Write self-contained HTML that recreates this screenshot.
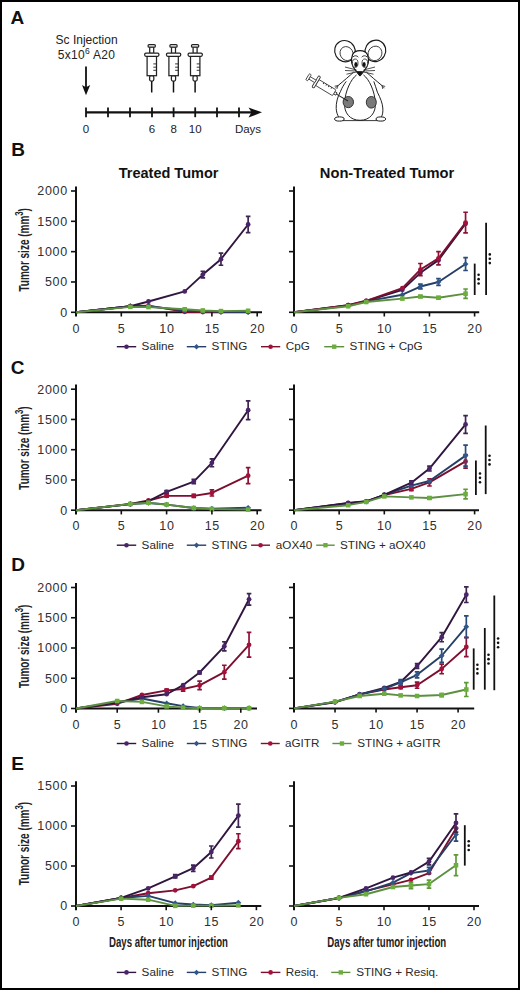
<!DOCTYPE html><html><head><meta charset="utf-8"><style>html,body{margin:0;padding:0;background:#fff;}svg{display:block;}</style></head><body>
<svg width="520" height="990" viewBox="0 0 520 990" font-family='"Liberation Sans", sans-serif'>
<rect x="0" y="0" width="520" height="990" fill="#fff"/>
<text x="10.4" y="24.4" font-size="19" font-weight="bold" fill="#111">A</text>
<text x="86.6" y="44.2" font-size="12" text-anchor="middle" fill="#222">Sc Injection</text>
<text x="57.7" y="58.9" font-size="12" letter-spacing="0.3" fill="#222">5x10<tspan dy="-5" font-size="8.5">6</tspan><tspan dy="5"> A20</tspan></text>
<path d="M86 66.5V88" stroke="#111" stroke-width="1.8"/>
<path d="M82 85L86 95.2L90.2 85L86 87.2Z" fill="#111"/>
<path d="M86 112.3H252" stroke="#111" stroke-width="2.2"/>
<path d="M248.5 107.5L262 112.3L248.5 117.6L251.5 112.3Z" fill="#111"/>
<path d="M86 107.4V117.2" stroke="#111" stroke-width="1.8"/>
<path d="M108 107.4V117.2" stroke="#111" stroke-width="1.8"/>
<path d="M130 107.4V117.2" stroke="#111" stroke-width="1.8"/>
<path d="M152 107.4V117.2" stroke="#111" stroke-width="1.8"/>
<path d="M173.6 107.4V117.2" stroke="#111" stroke-width="1.8"/>
<path d="M195.2 107.4V117.2" stroke="#111" stroke-width="1.8"/>
<path d="M217 107.4V117.2" stroke="#111" stroke-width="1.8"/>
<path d="M239 107.4V117.2" stroke="#111" stroke-width="1.8"/>
<text x="86" y="132.5" font-size="11.5" text-anchor="middle" fill="#222">0</text>
<text x="152" y="132.5" font-size="11.5" text-anchor="middle" fill="#222">6</text>
<text x="173.6" y="132.5" font-size="11.5" text-anchor="middle" fill="#222">8</text>
<text x="195.2" y="132.5" font-size="11.5" text-anchor="middle" fill="#222">10</text>
<text x="248" y="132.5" font-size="11.5" text-anchor="middle" fill="#222">Days</text>
<path d="M151.7 81V92.5" stroke="#111" stroke-width="1.5"/>
<rect x="149.60" y="75.6" width="4.2" height="5.4" rx="1.5" stroke="#222" stroke-width="1.25" fill="#fff"/>
<rect x="147.10" y="56.2" width="9.4" height="19.5" stroke="#222" stroke-width="1.25" fill="#fff"/>
<path d="M153.30 63.9H156.50" stroke="#222" stroke-width="0.9"/>
<path d="M153.30 67.2H156.50" stroke="#222" stroke-width="0.9"/>
<path d="M153.30 70.3H156.50" stroke="#222" stroke-width="0.9"/>
<rect x="149.70" y="46.8" width="4.0" height="6.6" stroke="#222" stroke-width="1.25" fill="#fff"/>
<rect x="148.10" y="44.6" width="7.2" height="2.6" rx="1" stroke="#222" stroke-width="1.25" fill="#fff"/>
<rect x="144.70" y="53.0" width="14.2" height="3.3" rx="1.2" stroke="#222" stroke-width="1.25" fill="#fff"/>
<path d="M173.5 81V92.5" stroke="#111" stroke-width="1.5"/>
<rect x="171.40" y="75.6" width="4.2" height="5.4" rx="1.5" stroke="#222" stroke-width="1.25" fill="#fff"/>
<rect x="168.90" y="56.2" width="9.4" height="19.5" stroke="#222" stroke-width="1.25" fill="#fff"/>
<path d="M175.10 63.9H178.30" stroke="#222" stroke-width="0.9"/>
<path d="M175.10 67.2H178.30" stroke="#222" stroke-width="0.9"/>
<path d="M175.10 70.3H178.30" stroke="#222" stroke-width="0.9"/>
<rect x="171.50" y="46.8" width="4.0" height="6.6" stroke="#222" stroke-width="1.25" fill="#fff"/>
<rect x="169.90" y="44.6" width="7.2" height="2.6" rx="1" stroke="#222" stroke-width="1.25" fill="#fff"/>
<rect x="166.50" y="53.0" width="14.2" height="3.3" rx="1.2" stroke="#222" stroke-width="1.25" fill="#fff"/>
<path d="M195.1 81V92.5" stroke="#111" stroke-width="1.5"/>
<rect x="193.00" y="75.6" width="4.2" height="5.4" rx="1.5" stroke="#222" stroke-width="1.25" fill="#fff"/>
<rect x="190.50" y="56.2" width="9.4" height="19.5" stroke="#222" stroke-width="1.25" fill="#fff"/>
<path d="M196.70 63.9H199.90" stroke="#222" stroke-width="0.9"/>
<path d="M196.70 67.2H199.90" stroke="#222" stroke-width="0.9"/>
<path d="M196.70 70.3H199.90" stroke="#222" stroke-width="0.9"/>
<rect x="193.10" y="46.8" width="4.0" height="6.6" stroke="#222" stroke-width="1.25" fill="#fff"/>
<rect x="191.50" y="44.6" width="7.2" height="2.6" rx="1" stroke="#222" stroke-width="1.25" fill="#fff"/>
<rect x="188.10" y="53.0" width="14.2" height="3.3" rx="1.2" stroke="#222" stroke-width="1.25" fill="#fff"/>
<ellipse cx="345" cy="51.2" rx="10.2" ry="10.8" transform="rotate(-30 345 51.2)" stroke="#1a1a1a" fill="#fff" stroke-width="1.15"/>
<ellipse cx="346.6" cy="53.6" rx="6.4" ry="7.2" transform="rotate(-30 346.6 53.6)" stroke="#333" fill="none" stroke-width="0.85"/>
<ellipse cx="375.4" cy="50.9" rx="10.2" ry="10.9" transform="rotate(30 375.4 50.9)" stroke="#1a1a1a" fill="#fff" stroke-width="1.15"/>
<ellipse cx="375" cy="53.4" rx="6.8" ry="7.4" transform="rotate(30 375 53.4)" stroke="#333" fill="none" stroke-width="0.85"/>
<path d="M353 72 L338 85.5 L336.3 108 L338 119 L383 119 L384.5 108 L382 85.5 L367 72 Z" fill="#fff"/>
<path d="M353.5 72.2 C349.5 76 343.5 81 338 85.6 M346.2 81.4 C343.8 84.6 342 87.8 340.6 91.2 C337.4 97 336 103 336.2 108.4 C336.4 112 337.3 114.8 338.6 116.8" stroke="#222" fill="none" stroke-width="1"/>
<path d="M338 85.6 L334.6 86.2 M338 85.6 L335.2 88 M338 85.6 L336.8 89" stroke="#222" fill="none" stroke-width="0.8"/>
<path d="M366.5 72.2 C370.5 76 376.5 81 382 85.6 M373.8 81.4 C375 84.6 376.2 88.6 377.4 92.2 C380.4 98 382.4 103 382.8 108 C383.1 112 382.6 114.8 381.4 116.8" stroke="#222" fill="none" stroke-width="1"/>
<path d="M382 85.6 L385.2 86.4 M382 85.6 L384.4 88.2 M382 85.6 L382.8 89" stroke="#222" fill="none" stroke-width="0.8"/>
<ellipse cx="339.4" cy="119" rx="4.8" ry="2.1" stroke="#1a1a1a" fill="#fff" stroke-width="1"/>
<ellipse cx="380.8" cy="119" rx="4.8" ry="2.1" stroke="#1a1a1a" fill="#fff" stroke-width="1"/>
<path d="M343 120.6 H377.5" stroke="#222" stroke-width="0.9"/>
<path d="M356.5 75 C351 79 345.2 91 344.5 103 C344 113 350 120.3 360 120.3 C370 120.3 375.9 113 375.4 103 C374.8 91 369 79 363.5 75" stroke="#222" fill="none" stroke-width="1"/>
<path d="M352.6 54.5 C354 51.5 357 50.6 360 50.6 C363 50.6 366 51.5 367.4 54.5 C369.5 60 368.5 66 364 71 C362.4 73 361.2 74.6 360 75.6 C358.8 74.6 357.6 73 356 71 C351.5 66 350.5 60 352.6 54.5 Z" stroke="#1a1a1a" fill="#fff" stroke-width="1.2"/>
<path d="M352.8 57 C354.5 55.2 357 55.4 358.3 57.2 M361.7 57.2 C363 55.4 365.5 55.2 367.2 57" stroke="#222" fill="none" stroke-width="0.9"/>
<ellipse cx="355.2" cy="63.2" rx="2.8" ry="4.2" stroke="#222" fill="#fff" stroke-width="0.8"/>
<ellipse cx="364.8" cy="63.2" rx="2.8" ry="4.2" stroke="#222" fill="#fff" stroke-width="0.8"/>
<ellipse cx="355.9" cy="64.4" rx="1.6" ry="2.5" fill="#111"/>
<ellipse cx="364.1" cy="64.4" rx="1.6" ry="2.5" fill="#111"/>
<path d="M357 71.6 L362.6 71.6 L359.8 76 Z" fill="#111" stroke="#111" stroke-width="0.8" stroke-linejoin="round"/>
<path d="M356.5 70 L345 67 M356.5 71 L345 70.5 M356.5 72 L346.5 74.2 M363.5 70 L375 67 M363.5 71 L375 70.5 M363.5 72 L373.5 74.2" stroke="#222" stroke-width="0.8" fill="none"/>
<ellipse cx="348.3" cy="102.1" rx="5.2" ry="5.6" fill="#7a7a7a" stroke="#333" stroke-width="1"/>
<ellipse cx="371.3" cy="102.3" rx="5" ry="5.8" fill="#7a7a7a" stroke="#333" stroke-width="1"/>
<g transform="translate(348 101) rotate(31)"><path d="M-14 0H0" stroke="#222" stroke-width="0.9"/><rect x="-16.5" y="-1.3" width="3" height="2.6" stroke="#222" fill="#fff" stroke-width="0.8"/><rect x="-36" y="-3.4" width="20" height="6.8" rx="1" stroke="#333" fill="#fff" stroke-width="0.8"/><path d="M-30 -3.4V-1.8M-27 -3.4V-1.8M-24 -3.4V-1.8M-21 -3.4V-1.8" stroke="#222" stroke-width="0.9"/><rect x="-38.2" y="-6.6" width="2.4" height="13.2" rx="1.1" stroke="#333" fill="#fff" stroke-width="0.9"/><rect x="-45" y="-1.4" width="7" height="2.8" stroke="#333" fill="#fff" stroke-width="0.8"/><rect x="-47.2" y="-3.6" width="2.3" height="7.2" rx="0.9" stroke="#333" fill="#fff" stroke-width="0.8"/></g>
<path d="M76 186.5V316.5" stroke="#111" stroke-width="2" fill="none"/>
<path d="M75 312.3H262" stroke="#111" stroke-width="2" fill="none"/>
<path d="M76.00 312.30L130.36 306.24L148.48 305.63L184.72 311.81L202.84 312.06L220.96 312.12L248.14 312.12" fill="none" stroke="#7c0f30" stroke-width="1.9" stroke-linejoin="round"/>
<circle cx="130.36" cy="306.24" r="2.4" fill="#a3113b"/>
<circle cx="148.48" cy="305.63" r="2.4" fill="#a3113b"/>
<circle cx="184.72" cy="311.81" r="2.4" fill="#a3113b"/>
<circle cx="202.84" cy="312.06" r="2.4" fill="#a3113b"/>
<circle cx="220.96" cy="312.12" r="2.4" fill="#a3113b"/>
<circle cx="248.14" cy="312.12" r="2.4" fill="#a3113b"/>
<path d="M76.00 312.30L130.36 306.24L148.48 306.24L184.72 310.48L202.84 311.39L220.96 311.81L248.14 312.00" fill="none" stroke="#263f66" stroke-width="1.9" stroke-linejoin="round"/>
<path d="M130.36 303.36L133.24 306.24L130.36 309.12L127.48 306.24Z" fill="#31578a"/>
<path d="M148.48 303.36L151.36 306.24L148.48 309.12L145.60 306.24Z" fill="#31578a"/>
<path d="M184.72 307.60L187.60 310.48L184.72 313.36L181.84 310.48Z" fill="#31578a"/>
<path d="M202.84 308.51L205.72 311.39L202.84 314.27L199.96 311.39Z" fill="#31578a"/>
<path d="M220.96 308.93L223.84 311.81L220.96 314.69L218.08 311.81Z" fill="#31578a"/>
<path d="M248.14 309.12L251.02 312.00L248.14 314.88L245.26 312.00Z" fill="#31578a"/>
<path d="M76.00 312.30L130.36 306.24L148.48 301.50L184.72 291.38L202.84 274.58L220.96 259.17L248.14 224.48" fill="none" stroke="#30163f" stroke-width="1.9" stroke-linejoin="round"/>
<circle cx="130.36" cy="306.24" r="2.4" fill="#4a2468"/>
<circle cx="148.48" cy="301.50" r="2.4" fill="#4a2468"/>
<circle cx="184.72" cy="291.38" r="2.4" fill="#4a2468"/>
<path d="M202.84 271.24V277.91M200.54 271.24H205.14M200.54 277.91H205.14" stroke="#3d2552" stroke-width="1.7" fill="none"/>
<circle cx="202.84" cy="274.58" r="2.4" fill="#4a2468"/>
<path d="M220.96 253.11V265.24M218.66 253.11H223.26M218.66 265.24H223.26" stroke="#3d2552" stroke-width="1.7" fill="none"/>
<circle cx="220.96" cy="259.17" r="2.4" fill="#4a2468"/>
<path d="M248.14 216.29V232.67M245.84 216.29H250.44M245.84 232.67H250.44" stroke="#3d2552" stroke-width="1.7" fill="none"/>
<circle cx="248.14" cy="224.48" r="2.4" fill="#4a2468"/>
<path d="M76.00 312.30L130.36 306.84L148.48 307.08L184.72 309.27L202.84 310.48L220.96 311.09L248.14 310.78" fill="none" stroke="#5c9040" stroke-width="1.9" stroke-linejoin="round"/>
<rect x="128.08" y="304.56" width="4.56" height="4.56" fill="#6cae3e"/>
<rect x="146.20" y="304.80" width="4.56" height="4.56" fill="#6cae3e"/>
<rect x="182.44" y="306.99" width="4.56" height="4.56" fill="#6cae3e"/>
<rect x="200.56" y="308.20" width="4.56" height="4.56" fill="#6cae3e"/>
<rect x="218.68" y="308.81" width="4.56" height="4.56" fill="#6cae3e"/>
<rect x="245.86" y="308.50" width="4.56" height="4.56" fill="#6cae3e"/>
<path d="M71 312.30H76" stroke="#111" stroke-width="1.6" fill="none"/>
<text x="68" y="316.60" text-anchor="end" font-size="12.5" letter-spacing="0.75" fill="#303030">0</text>
<path d="M71 281.98H76" stroke="#111" stroke-width="1.6" fill="none"/>
<text x="68" y="286.28" text-anchor="end" font-size="12.5" letter-spacing="0.75" fill="#303030">500</text>
<path d="M71 251.65H76" stroke="#111" stroke-width="1.6" fill="none"/>
<text x="68" y="255.95" text-anchor="end" font-size="12.5" letter-spacing="0.75" fill="#303030">1000</text>
<path d="M71 221.32H76" stroke="#111" stroke-width="1.6" fill="none"/>
<text x="68" y="225.62" text-anchor="end" font-size="12.5" letter-spacing="0.75" fill="#303030">1500</text>
<path d="M71 191.00H76" stroke="#111" stroke-width="1.6" fill="none"/>
<text x="68" y="195.30" text-anchor="end" font-size="12.5" letter-spacing="0.75" fill="#303030">2000</text>
<text x="76.30" y="332.50" text-anchor="middle" font-size="12.5" letter-spacing="0.6" fill="#303030">0</text>
<path d="M121.30 312.3V316.5" stroke="#111" stroke-width="1.6" fill="none"/>
<text x="121.60" y="332.50" text-anchor="middle" font-size="12.5" letter-spacing="0.6" fill="#303030">5</text>
<path d="M166.60 312.3V316.5" stroke="#111" stroke-width="1.6" fill="none"/>
<text x="166.90" y="332.50" text-anchor="middle" font-size="12.5" letter-spacing="0.6" fill="#303030">10</text>
<path d="M211.90 312.3V316.5" stroke="#111" stroke-width="1.6" fill="none"/>
<text x="212.20" y="332.50" text-anchor="middle" font-size="12.5" letter-spacing="0.6" fill="#303030">15</text>
<path d="M257.20 312.3V316.5" stroke="#111" stroke-width="1.6" fill="none"/>
<text x="257.50" y="332.50" text-anchor="middle" font-size="12.5" letter-spacing="0.6" fill="#303030">20</text>
<path d="M294 186.5V316.5" stroke="#111" stroke-width="2" fill="none"/>
<path d="M293 312.3H479.2" stroke="#111" stroke-width="2" fill="none"/>
<path d="M294.00 312.30L348.18 305.63L366.24 301.38L402.36 294.71L420.42 286.52L438.48 281.98L465.57 264.02" fill="none" stroke="#263f66" stroke-width="1.9" stroke-linejoin="round"/>
<path d="M348.18 302.75L351.06 305.63L348.18 308.51L345.30 305.63Z" fill="#31578a"/>
<path d="M366.24 298.50L369.12 301.38L366.24 304.26L363.36 301.38Z" fill="#31578a"/>
<path d="M402.36 291.83L405.24 294.71L402.36 297.59L399.48 294.71Z" fill="#31578a"/>
<path d="M420.42 284.10V288.95M418.12 284.10H422.72M418.12 288.95H422.72" stroke="#2b4a78" stroke-width="1.7" fill="none"/>
<path d="M420.42 283.64L423.30 286.52L420.42 289.40L417.54 286.52Z" fill="#31578a"/>
<path d="M438.48 278.58V285.37M436.18 278.58H440.78M436.18 285.37H440.78" stroke="#2b4a78" stroke-width="1.7" fill="none"/>
<path d="M438.48 279.10L441.36 281.98L438.48 284.86L435.60 281.98Z" fill="#31578a"/>
<path d="M465.57 257.53V270.51M463.27 257.53H467.87M463.27 270.51H467.87" stroke="#2b4a78" stroke-width="1.7" fill="none"/>
<path d="M465.57 261.14L468.45 264.02L465.57 266.90L462.69 264.02Z" fill="#31578a"/>
<path d="M294.00 312.30L348.18 305.20L366.24 301.02L402.36 289.86L420.42 272.82L438.48 260.14L465.57 223.75" fill="none" stroke="#30163f" stroke-width="1.9" stroke-linejoin="round"/>
<circle cx="348.18" cy="305.20" r="2.4" fill="#4a2468"/>
<circle cx="366.24" cy="301.02" r="2.4" fill="#4a2468"/>
<circle cx="402.36" cy="289.86" r="2.4" fill="#4a2468"/>
<circle cx="420.42" cy="272.82" r="2.4" fill="#4a2468"/>
<circle cx="438.48" cy="260.14" r="2.4" fill="#4a2468"/>
<circle cx="465.57" cy="223.75" r="2.4" fill="#4a2468"/>
<path d="M294.00 312.30L348.18 305.20L366.24 300.78L402.36 288.04L420.42 269.54L438.48 258.32L465.57 222.54" fill="none" stroke="#7c0f30" stroke-width="1.9" stroke-linejoin="round"/>
<circle cx="348.18" cy="305.20" r="2.4" fill="#a3113b"/>
<circle cx="366.24" cy="300.78" r="2.4" fill="#a3113b"/>
<circle cx="402.36" cy="288.04" r="2.4" fill="#a3113b"/>
<path d="M420.42 263.48V275.61M418.12 263.48H422.72M418.12 275.61H422.72" stroke="#8e1135" stroke-width="1.7" fill="none"/>
<circle cx="420.42" cy="269.54" r="2.4" fill="#a3113b"/>
<path d="M438.48 251.71V264.93M436.18 251.71H440.78M436.18 264.93H440.78" stroke="#8e1135" stroke-width="1.7" fill="none"/>
<circle cx="438.48" cy="258.32" r="2.4" fill="#a3113b"/>
<path d="M465.57 212.23V232.85M463.27 212.23H467.87M463.27 232.85H467.87" stroke="#8e1135" stroke-width="1.7" fill="none"/>
<circle cx="465.57" cy="222.54" r="2.4" fill="#a3113b"/>
<path d="M294.00 312.30L348.18 306.24L366.24 301.99L402.36 298.59L420.42 296.53L438.48 297.74L465.57 293.68" fill="none" stroke="#5c9040" stroke-width="1.9" stroke-linejoin="round"/>
<rect x="345.90" y="303.96" width="4.56" height="4.56" fill="#6cae3e"/>
<rect x="363.96" y="299.71" width="4.56" height="4.56" fill="#6cae3e"/>
<rect x="400.08" y="296.31" width="4.56" height="4.56" fill="#6cae3e"/>
<path d="M420.42 295.62V297.44M418.12 295.62H422.72M418.12 297.44H422.72" stroke="#5e9a38" stroke-width="1.7" fill="none"/>
<rect x="418.14" y="294.25" width="4.56" height="4.56" fill="#6cae3e"/>
<path d="M438.48 296.53V298.96M436.18 296.53H440.78M436.18 298.96H440.78" stroke="#5e9a38" stroke-width="1.7" fill="none"/>
<rect x="436.20" y="295.46" width="4.56" height="4.56" fill="#6cae3e"/>
<path d="M465.57 289.01V298.35M463.27 289.01H467.87M463.27 298.35H467.87" stroke="#5e9a38" stroke-width="1.7" fill="none"/>
<rect x="463.29" y="291.40" width="4.56" height="4.56" fill="#6cae3e"/>
<path d="M289 312.30H294" stroke="#111" stroke-width="1.6" fill="none"/>
<path d="M289 281.98H294" stroke="#111" stroke-width="1.6" fill="none"/>
<path d="M289 251.65H294" stroke="#111" stroke-width="1.6" fill="none"/>
<path d="M289 221.32H294" stroke="#111" stroke-width="1.6" fill="none"/>
<path d="M289 191.00H294" stroke="#111" stroke-width="1.6" fill="none"/>
<text x="294.30" y="332.50" text-anchor="middle" font-size="12.5" letter-spacing="0.6" fill="#303030">0</text>
<path d="M339.15 312.3V316.5" stroke="#111" stroke-width="1.6" fill="none"/>
<text x="339.45" y="332.50" text-anchor="middle" font-size="12.5" letter-spacing="0.6" fill="#303030">5</text>
<path d="M384.30 312.3V316.5" stroke="#111" stroke-width="1.6" fill="none"/>
<text x="384.60" y="332.50" text-anchor="middle" font-size="12.5" letter-spacing="0.6" fill="#303030">10</text>
<path d="M429.45 312.3V316.5" stroke="#111" stroke-width="1.6" fill="none"/>
<text x="429.75" y="332.50" text-anchor="middle" font-size="12.5" letter-spacing="0.6" fill="#303030">15</text>
<path d="M474.60 312.3V316.5" stroke="#111" stroke-width="1.6" fill="none"/>
<text x="474.90" y="332.50" text-anchor="middle" font-size="12.5" letter-spacing="0.6" fill="#303030">20</text>
<path d="M474.7 263.6V295" stroke="#111" stroke-width="1.8" fill="none"/>
<circle cx="478.60" cy="274.80" r="1.3" fill="#111"/>
<circle cx="478.60" cy="279.15" r="1.3" fill="#111"/>
<circle cx="478.60" cy="283.50" r="1.3" fill="#111"/>
<path d="M486.1 222.7V295" stroke="#111" stroke-width="1.8" fill="none"/>
<circle cx="489.80" cy="254.40" r="1.3" fill="#111"/>
<circle cx="489.80" cy="258.75" r="1.3" fill="#111"/>
<circle cx="489.80" cy="263.10" r="1.3" fill="#111"/>
<path d="M76 384.6V514.4" stroke="#111" stroke-width="2" fill="none"/>
<path d="M75 510.2H261.5" stroke="#111" stroke-width="2" fill="none"/>
<path d="M76.00 510.20L130.36 503.85L148.48 500.52L166.60 495.92L193.78 495.92L211.90 492.96L248.14 475.65" fill="none" stroke="#7c0f30" stroke-width="1.9" stroke-linejoin="round"/>
<circle cx="130.36" cy="503.85" r="2.4" fill="#a3113b"/>
<circle cx="148.48" cy="500.52" r="2.4" fill="#a3113b"/>
<path d="M166.60 494.71V497.13M164.30 494.71H168.90M164.30 497.13H168.90" stroke="#8e1135" stroke-width="1.7" fill="none"/>
<circle cx="166.60" cy="495.92" r="2.4" fill="#a3113b"/>
<path d="M193.78 494.41V497.43M191.48 494.41H196.08M191.48 497.43H196.08" stroke="#8e1135" stroke-width="1.7" fill="none"/>
<circle cx="193.78" cy="495.92" r="2.4" fill="#a3113b"/>
<path d="M211.90 489.93V495.98M209.60 489.93H214.20M209.60 495.98H214.20" stroke="#8e1135" stroke-width="1.7" fill="none"/>
<circle cx="211.90" cy="492.96" r="2.4" fill="#a3113b"/>
<path d="M248.14 467.61V483.70M245.84 467.61H250.44M245.84 483.70H250.44" stroke="#8e1135" stroke-width="1.7" fill="none"/>
<circle cx="248.14" cy="475.65" r="2.4" fill="#a3113b"/>
<path d="M76.00 510.20L130.36 504.15L148.48 502.94L166.60 504.57L193.78 508.02L211.90 508.63L248.14 507.78" fill="none" stroke="#263f66" stroke-width="1.9" stroke-linejoin="round"/>
<path d="M130.36 501.27L133.24 504.15L130.36 507.03L127.48 504.15Z" fill="#31578a"/>
<path d="M148.48 500.06L151.36 502.94L148.48 505.82L145.60 502.94Z" fill="#31578a"/>
<path d="M166.60 501.69L169.48 504.57L166.60 507.45L163.72 504.57Z" fill="#31578a"/>
<path d="M193.78 505.14L196.66 508.02L193.78 510.90L190.90 508.02Z" fill="#31578a"/>
<path d="M211.90 505.75L214.78 508.63L211.90 511.51L209.02 508.63Z" fill="#31578a"/>
<path d="M248.14 504.90L251.02 507.78L248.14 510.66L245.26 507.78Z" fill="#31578a"/>
<path d="M76.00 510.20L130.36 504.15L148.48 501.12L166.60 491.93L193.78 481.58L211.90 462.83L248.14 410.19" fill="none" stroke="#30163f" stroke-width="1.9" stroke-linejoin="round"/>
<circle cx="130.36" cy="504.15" r="2.4" fill="#4a2468"/>
<circle cx="148.48" cy="501.12" r="2.4" fill="#4a2468"/>
<path d="M166.60 490.72V493.14M164.30 490.72H168.90M164.30 493.14H168.90" stroke="#3d2552" stroke-width="1.7" fill="none"/>
<circle cx="166.60" cy="491.93" r="2.4" fill="#4a2468"/>
<path d="M193.78 479.47V483.70M191.48 479.47H196.08M191.48 483.70H196.08" stroke="#3d2552" stroke-width="1.7" fill="none"/>
<circle cx="193.78" cy="481.58" r="2.4" fill="#4a2468"/>
<path d="M211.90 458.90V466.76M209.60 458.90H214.20M209.60 466.76H214.20" stroke="#3d2552" stroke-width="1.7" fill="none"/>
<circle cx="211.90" cy="462.83" r="2.4" fill="#4a2468"/>
<path d="M248.14 400.82V419.57M245.84 400.82H250.44M245.84 419.57H250.44" stroke="#3d2552" stroke-width="1.7" fill="none"/>
<circle cx="248.14" cy="410.19" r="2.4" fill="#4a2468"/>
<path d="M76.00 510.20L130.36 504.03L148.48 502.70L166.60 504.57L193.78 508.02L211.90 508.99L248.14 509.59" fill="none" stroke="#5c9040" stroke-width="1.9" stroke-linejoin="round"/>
<rect x="128.08" y="501.75" width="4.56" height="4.56" fill="#6cae3e"/>
<rect x="146.20" y="500.42" width="4.56" height="4.56" fill="#6cae3e"/>
<rect x="164.32" y="502.29" width="4.56" height="4.56" fill="#6cae3e"/>
<rect x="191.50" y="505.74" width="4.56" height="4.56" fill="#6cae3e"/>
<rect x="209.62" y="506.71" width="4.56" height="4.56" fill="#6cae3e"/>
<rect x="245.86" y="507.31" width="4.56" height="4.56" fill="#6cae3e"/>
<path d="M71 510.20H76" stroke="#111" stroke-width="1.6" fill="none"/>
<text x="68" y="514.50" text-anchor="end" font-size="12.5" letter-spacing="0.75" fill="#303030">0</text>
<path d="M71 479.95H76" stroke="#111" stroke-width="1.6" fill="none"/>
<text x="68" y="484.25" text-anchor="end" font-size="12.5" letter-spacing="0.75" fill="#303030">500</text>
<path d="M71 449.70H76" stroke="#111" stroke-width="1.6" fill="none"/>
<text x="68" y="454.00" text-anchor="end" font-size="12.5" letter-spacing="0.75" fill="#303030">1000</text>
<path d="M71 419.45H76" stroke="#111" stroke-width="1.6" fill="none"/>
<text x="68" y="423.75" text-anchor="end" font-size="12.5" letter-spacing="0.75" fill="#303030">1500</text>
<path d="M71 389.20H76" stroke="#111" stroke-width="1.6" fill="none"/>
<text x="68" y="393.50" text-anchor="end" font-size="12.5" letter-spacing="0.75" fill="#303030">2000</text>
<text x="76.30" y="530.40" text-anchor="middle" font-size="12.5" letter-spacing="0.6" fill="#303030">0</text>
<path d="M121.30 510.2V514.4" stroke="#111" stroke-width="1.6" fill="none"/>
<text x="121.60" y="530.40" text-anchor="middle" font-size="12.5" letter-spacing="0.6" fill="#303030">5</text>
<path d="M166.60 510.2V514.4" stroke="#111" stroke-width="1.6" fill="none"/>
<text x="166.90" y="530.40" text-anchor="middle" font-size="12.5" letter-spacing="0.6" fill="#303030">10</text>
<path d="M211.90 510.2V514.4" stroke="#111" stroke-width="1.6" fill="none"/>
<text x="212.20" y="530.40" text-anchor="middle" font-size="12.5" letter-spacing="0.6" fill="#303030">15</text>
<path d="M257.20 510.2V514.4" stroke="#111" stroke-width="1.6" fill="none"/>
<text x="257.50" y="530.40" text-anchor="middle" font-size="12.5" letter-spacing="0.6" fill="#303030">20</text>
<path d="M294 384.6V514.4" stroke="#111" stroke-width="2" fill="none"/>
<path d="M293 510.2H479" stroke="#111" stroke-width="2" fill="none"/>
<path d="M294.00 510.20L348.18 503.24L366.24 501.43L384.30 495.07L411.39 488.90L429.45 482.37L465.57 461.44" fill="none" stroke="#7c0f30" stroke-width="1.9" stroke-linejoin="round"/>
<circle cx="348.18" cy="503.24" r="2.4" fill="#a3113b"/>
<circle cx="366.24" cy="501.43" r="2.4" fill="#a3113b"/>
<circle cx="384.30" cy="495.07" r="2.4" fill="#a3113b"/>
<path d="M411.39 487.09V490.72M409.09 487.09H413.69M409.09 490.72H413.69" stroke="#8e1135" stroke-width="1.7" fill="none"/>
<circle cx="411.39" cy="488.90" r="2.4" fill="#a3113b"/>
<path d="M429.45 478.74V486.00M427.15 478.74H431.75M427.15 486.00H431.75" stroke="#8e1135" stroke-width="1.7" fill="none"/>
<circle cx="429.45" cy="482.37" r="2.4" fill="#a3113b"/>
<path d="M465.57 454.66V468.21M463.27 454.66H467.87M463.27 468.21H467.87" stroke="#8e1135" stroke-width="1.7" fill="none"/>
<circle cx="465.57" cy="461.44" r="2.4" fill="#a3113b"/>
<path d="M294.00 510.20L348.18 503.55L366.24 501.73L384.30 494.77L411.39 485.64L429.45 481.04L465.57 455.63" fill="none" stroke="#263f66" stroke-width="1.9" stroke-linejoin="round"/>
<path d="M348.18 500.67L351.06 503.55L348.18 506.43L345.30 503.55Z" fill="#31578a"/>
<path d="M366.24 498.85L369.12 501.73L366.24 504.61L363.36 501.73Z" fill="#31578a"/>
<path d="M384.30 491.89L387.18 494.77L384.30 497.65L381.42 494.77Z" fill="#31578a"/>
<path d="M411.39 482.76L414.27 485.64L411.39 488.52L408.51 485.64Z" fill="#31578a"/>
<path d="M429.45 478.16L432.33 481.04L429.45 483.92L426.57 481.04Z" fill="#31578a"/>
<path d="M465.57 445.16V466.10M463.27 445.16H467.87M463.27 466.10H467.87" stroke="#2b4a78" stroke-width="1.7" fill="none"/>
<path d="M465.57 452.75L468.45 455.63L465.57 458.51L462.69 455.63Z" fill="#31578a"/>
<path d="M294.00 510.20L348.18 502.94L366.24 501.31L384.30 494.77L411.39 482.67L429.45 468.58L465.57 424.47" fill="none" stroke="#30163f" stroke-width="1.9" stroke-linejoin="round"/>
<circle cx="348.18" cy="502.94" r="2.4" fill="#4a2468"/>
<circle cx="366.24" cy="501.31" r="2.4" fill="#4a2468"/>
<circle cx="384.30" cy="494.77" r="2.4" fill="#4a2468"/>
<path d="M411.39 480.86V484.49M409.09 480.86H413.69M409.09 484.49H413.69" stroke="#3d2552" stroke-width="1.7" fill="none"/>
<circle cx="411.39" cy="482.67" r="2.4" fill="#4a2468"/>
<path d="M429.45 466.16V471.00M427.15 466.16H431.75M427.15 471.00H431.75" stroke="#3d2552" stroke-width="1.7" fill="none"/>
<circle cx="429.45" cy="468.58" r="2.4" fill="#4a2468"/>
<path d="M465.57 415.64V433.30M463.27 415.64H467.87M463.27 433.30H467.87" stroke="#3d2552" stroke-width="1.7" fill="none"/>
<circle cx="465.57" cy="424.47" r="2.4" fill="#4a2468"/>
<path d="M294.00 510.20L348.18 505.18L366.24 501.91L384.30 496.41L411.39 497.37L429.45 497.98L465.57 494.11" fill="none" stroke="#5c9040" stroke-width="1.9" stroke-linejoin="round"/>
<rect x="345.90" y="502.90" width="4.56" height="4.56" fill="#6cae3e"/>
<rect x="363.96" y="499.63" width="4.56" height="4.56" fill="#6cae3e"/>
<rect x="382.02" y="494.13" width="4.56" height="4.56" fill="#6cae3e"/>
<rect x="409.11" y="495.09" width="4.56" height="4.56" fill="#6cae3e"/>
<path d="M429.45 496.77V499.19M427.15 496.77H431.75M427.15 499.19H431.75" stroke="#5e9a38" stroke-width="1.7" fill="none"/>
<rect x="427.17" y="495.70" width="4.56" height="4.56" fill="#6cae3e"/>
<path d="M465.57 489.27V498.95M463.27 489.27H467.87M463.27 498.95H467.87" stroke="#5e9a38" stroke-width="1.7" fill="none"/>
<rect x="463.29" y="491.83" width="4.56" height="4.56" fill="#6cae3e"/>
<path d="M289 510.20H294" stroke="#111" stroke-width="1.6" fill="none"/>
<path d="M289 479.95H294" stroke="#111" stroke-width="1.6" fill="none"/>
<path d="M289 449.70H294" stroke="#111" stroke-width="1.6" fill="none"/>
<path d="M289 419.45H294" stroke="#111" stroke-width="1.6" fill="none"/>
<path d="M289 389.20H294" stroke="#111" stroke-width="1.6" fill="none"/>
<text x="294.30" y="530.40" text-anchor="middle" font-size="12.5" letter-spacing="0.6" fill="#303030">0</text>
<path d="M339.15 510.2V514.4" stroke="#111" stroke-width="1.6" fill="none"/>
<text x="339.45" y="530.40" text-anchor="middle" font-size="12.5" letter-spacing="0.6" fill="#303030">5</text>
<path d="M384.30 510.2V514.4" stroke="#111" stroke-width="1.6" fill="none"/>
<text x="384.60" y="530.40" text-anchor="middle" font-size="12.5" letter-spacing="0.6" fill="#303030">10</text>
<path d="M429.45 510.2V514.4" stroke="#111" stroke-width="1.6" fill="none"/>
<text x="429.75" y="530.40" text-anchor="middle" font-size="12.5" letter-spacing="0.6" fill="#303030">15</text>
<path d="M474.60 510.2V514.4" stroke="#111" stroke-width="1.6" fill="none"/>
<text x="474.90" y="530.40" text-anchor="middle" font-size="12.5" letter-spacing="0.6" fill="#303030">20</text>
<path d="M475.9 460.5V495" stroke="#111" stroke-width="1.8" fill="none"/>
<circle cx="480.00" cy="473.50" r="1.3" fill="#111"/>
<circle cx="480.00" cy="477.85" r="1.3" fill="#111"/>
<circle cx="480.00" cy="482.20" r="1.3" fill="#111"/>
<path d="M485.7 425.5V494.1" stroke="#111" stroke-width="1.8" fill="none"/>
<circle cx="489.50" cy="455.70" r="1.3" fill="#111"/>
<circle cx="489.50" cy="460.05" r="1.3" fill="#111"/>
<circle cx="489.50" cy="464.40" r="1.3" fill="#111"/>
<path d="M76 583.1V712.7" stroke="#111" stroke-width="2" fill="none"/>
<path d="M75 708.5H257" stroke="#111" stroke-width="2" fill="none"/>
<path d="M76.00 708.50L117.20 703.78L141.92 695.01L166.64 690.41L183.12 688.96L199.60 685.39L224.32 672.20L249.04 644.79" fill="none" stroke="#7c0f30" stroke-width="1.9" stroke-linejoin="round"/>
<circle cx="117.20" cy="703.78" r="2.4" fill="#a3113b"/>
<circle cx="141.92" cy="695.01" r="2.4" fill="#a3113b"/>
<path d="M166.64 689.20V691.62M164.34 689.20H168.94M164.34 691.62H168.94" stroke="#8e1135" stroke-width="1.7" fill="none"/>
<circle cx="166.64" cy="690.41" r="2.4" fill="#a3113b"/>
<path d="M183.12 686.84V691.08M180.82 686.84H185.42M180.82 691.08H185.42" stroke="#8e1135" stroke-width="1.7" fill="none"/>
<circle cx="183.12" cy="688.96" r="2.4" fill="#a3113b"/>
<path d="M199.60 681.15V689.62M197.30 681.15H201.90M197.30 689.62H201.90" stroke="#8e1135" stroke-width="1.7" fill="none"/>
<circle cx="199.60" cy="685.39" r="2.4" fill="#a3113b"/>
<path d="M224.32 665.24V679.16M222.02 665.24H226.62M222.02 679.16H226.62" stroke="#8e1135" stroke-width="1.7" fill="none"/>
<circle cx="224.32" cy="672.20" r="2.4" fill="#a3113b"/>
<path d="M249.04 632.39V657.20M246.74 632.39H251.34M246.74 657.20H251.34" stroke="#8e1135" stroke-width="1.7" fill="none"/>
<circle cx="249.04" cy="644.79" r="2.4" fill="#a3113b"/>
<path d="M76.00 708.50L117.20 702.45L141.92 698.52L166.64 703.30L183.12 706.08L199.60 708.02L224.32 708.20L249.04 708.20" fill="none" stroke="#263f66" stroke-width="1.9" stroke-linejoin="round"/>
<path d="M117.20 699.57L120.08 702.45L117.20 705.33L114.32 702.45Z" fill="#31578a"/>
<path d="M141.92 695.64L144.80 698.52L141.92 701.40L139.04 698.52Z" fill="#31578a"/>
<path d="M166.64 700.42L169.52 703.30L166.64 706.18L163.76 703.30Z" fill="#31578a"/>
<path d="M183.12 703.20L186.00 706.08L183.12 708.96L180.24 706.08Z" fill="#31578a"/>
<path d="M199.60 705.14L202.48 708.02L199.60 710.90L196.72 708.02Z" fill="#31578a"/>
<path d="M224.32 705.32L227.20 708.20L224.32 711.08L221.44 708.20Z" fill="#31578a"/>
<path d="M249.04 705.32L251.92 708.20L249.04 711.08L246.16 708.20Z" fill="#31578a"/>
<path d="M76.00 708.50L117.20 702.45L141.92 697.31L166.64 694.22L183.12 685.09L199.60 672.50L224.32 646.31L249.04 599.30" fill="none" stroke="#30163f" stroke-width="1.9" stroke-linejoin="round"/>
<circle cx="117.20" cy="702.45" r="2.4" fill="#4a2468"/>
<circle cx="141.92" cy="697.31" r="2.4" fill="#4a2468"/>
<circle cx="166.64" cy="694.22" r="2.4" fill="#4a2468"/>
<circle cx="183.12" cy="685.09" r="2.4" fill="#4a2468"/>
<path d="M199.60 670.99V674.01M197.30 670.99H201.90M197.30 674.01H201.90" stroke="#3d2552" stroke-width="1.7" fill="none"/>
<circle cx="199.60" cy="672.50" r="2.4" fill="#4a2468"/>
<path d="M224.32 641.77V650.84M222.02 641.77H226.62M222.02 650.84H226.62" stroke="#3d2552" stroke-width="1.7" fill="none"/>
<circle cx="224.32" cy="646.31" r="2.4" fill="#4a2468"/>
<path d="M249.04 593.55V605.04M246.74 593.55H251.34M246.74 605.04H251.34" stroke="#3d2552" stroke-width="1.7" fill="none"/>
<circle cx="249.04" cy="599.30" r="2.4" fill="#4a2468"/>
<path d="M76.00 708.50L117.20 701.00L141.92 701.91L166.64 706.38L183.12 707.59L199.60 708.20L224.32 708.20L249.04 708.20" fill="none" stroke="#5c9040" stroke-width="1.9" stroke-linejoin="round"/>
<rect x="114.92" y="698.72" width="4.56" height="4.56" fill="#6cae3e"/>
<rect x="139.64" y="699.63" width="4.56" height="4.56" fill="#6cae3e"/>
<rect x="164.36" y="704.10" width="4.56" height="4.56" fill="#6cae3e"/>
<rect x="180.84" y="705.31" width="4.56" height="4.56" fill="#6cae3e"/>
<rect x="197.32" y="705.92" width="4.56" height="4.56" fill="#6cae3e"/>
<rect x="222.04" y="705.92" width="4.56" height="4.56" fill="#6cae3e"/>
<rect x="246.76" y="705.92" width="4.56" height="4.56" fill="#6cae3e"/>
<path d="M71 708.50H76" stroke="#111" stroke-width="1.6" fill="none"/>
<text x="68" y="712.80" text-anchor="end" font-size="12.5" letter-spacing="0.75" fill="#303030">0</text>
<path d="M71 678.25H76" stroke="#111" stroke-width="1.6" fill="none"/>
<text x="68" y="682.55" text-anchor="end" font-size="12.5" letter-spacing="0.75" fill="#303030">500</text>
<path d="M71 648.00H76" stroke="#111" stroke-width="1.6" fill="none"/>
<text x="68" y="652.30" text-anchor="end" font-size="12.5" letter-spacing="0.75" fill="#303030">1000</text>
<path d="M71 617.75H76" stroke="#111" stroke-width="1.6" fill="none"/>
<text x="68" y="622.05" text-anchor="end" font-size="12.5" letter-spacing="0.75" fill="#303030">1500</text>
<path d="M71 587.50H76" stroke="#111" stroke-width="1.6" fill="none"/>
<text x="68" y="591.80" text-anchor="end" font-size="12.5" letter-spacing="0.75" fill="#303030">2000</text>
<text x="76.30" y="728.70" text-anchor="middle" font-size="12.5" letter-spacing="0.6" fill="#303030">0</text>
<path d="M117.20 708.5V712.7" stroke="#111" stroke-width="1.6" fill="none"/>
<text x="117.50" y="728.70" text-anchor="middle" font-size="12.5" letter-spacing="0.6" fill="#303030">5</text>
<path d="M158.40 708.5V712.7" stroke="#111" stroke-width="1.6" fill="none"/>
<text x="158.70" y="728.70" text-anchor="middle" font-size="12.5" letter-spacing="0.6" fill="#303030">10</text>
<path d="M199.60 708.5V712.7" stroke="#111" stroke-width="1.6" fill="none"/>
<text x="199.90" y="728.70" text-anchor="middle" font-size="12.5" letter-spacing="0.6" fill="#303030">15</text>
<path d="M240.80 708.5V712.7" stroke="#111" stroke-width="1.6" fill="none"/>
<text x="241.10" y="728.70" text-anchor="middle" font-size="12.5" letter-spacing="0.6" fill="#303030">20</text>
<path d="M294 583.1V712.6" stroke="#111" stroke-width="2" fill="none"/>
<path d="M293 708.4H474.2" stroke="#111" stroke-width="2" fill="none"/>
<path d="M294.00 708.40L335.02 702.35L359.64 694.42L384.25 689.52L400.67 687.23L417.07 685.23L441.69 668.89L466.31 646.99" fill="none" stroke="#7c0f30" stroke-width="1.9" stroke-linejoin="round"/>
<circle cx="335.02" cy="702.35" r="2.4" fill="#a3113b"/>
<circle cx="359.64" cy="694.42" r="2.4" fill="#a3113b"/>
<circle cx="384.25" cy="689.52" r="2.4" fill="#a3113b"/>
<path d="M400.67 685.71V688.74M398.37 685.71H402.97M398.37 688.74H402.97" stroke="#8e1135" stroke-width="1.7" fill="none"/>
<circle cx="400.67" cy="687.23" r="2.4" fill="#a3113b"/>
<path d="M417.07 682.20V688.25M414.77 682.20H419.38M414.77 688.25H419.38" stroke="#8e1135" stroke-width="1.7" fill="none"/>
<circle cx="417.07" cy="685.23" r="2.4" fill="#a3113b"/>
<path d="M441.69 664.05V673.73M439.39 664.05H443.99M439.39 673.73H443.99" stroke="#8e1135" stroke-width="1.7" fill="none"/>
<circle cx="441.69" cy="668.89" r="2.4" fill="#a3113b"/>
<path d="M466.31 637.31V656.67M464.00 637.31H468.61M464.00 656.67H468.61" stroke="#8e1135" stroke-width="1.7" fill="none"/>
<circle cx="466.31" cy="646.99" r="2.4" fill="#a3113b"/>
<path d="M294.00 708.40L335.02 701.87L359.64 694.42L384.25 687.83L400.67 681.96L417.07 666.05L441.69 637.19L466.31 594.66" fill="none" stroke="#30163f" stroke-width="1.9" stroke-linejoin="round"/>
<circle cx="335.02" cy="701.87" r="2.4" fill="#4a2468"/>
<circle cx="359.64" cy="694.42" r="2.4" fill="#4a2468"/>
<circle cx="384.25" cy="687.83" r="2.4" fill="#4a2468"/>
<path d="M400.67 680.75V683.17M398.37 680.75H402.97M398.37 683.17H402.97" stroke="#3d2552" stroke-width="1.7" fill="none"/>
<circle cx="400.67" cy="681.96" r="2.4" fill="#4a2468"/>
<path d="M417.07 663.63V668.47M414.77 663.63H419.38M414.77 668.47H419.38" stroke="#3d2552" stroke-width="1.7" fill="none"/>
<circle cx="417.07" cy="666.05" r="2.4" fill="#4a2468"/>
<path d="M441.69 632.65V641.73M439.39 632.65H443.99M439.39 641.73H443.99" stroke="#3d2552" stroke-width="1.7" fill="none"/>
<circle cx="441.69" cy="637.19" r="2.4" fill="#4a2468"/>
<path d="M466.31 586.79V602.52M464.00 586.79H468.61M464.00 602.52H468.61" stroke="#3d2552" stroke-width="1.7" fill="none"/>
<circle cx="466.31" cy="594.66" r="2.4" fill="#4a2468"/>
<path d="M294.00 708.40L335.02 702.05L359.64 694.42L384.25 688.86L400.67 682.38L417.07 674.82L441.69 655.76L466.31 626.73" fill="none" stroke="#263f66" stroke-width="1.9" stroke-linejoin="round"/>
<path d="M335.02 699.17L337.90 702.05L335.02 704.93L332.14 702.05Z" fill="#31578a"/>
<path d="M359.64 691.54L362.52 694.42L359.64 697.30L356.76 694.42Z" fill="#31578a"/>
<path d="M384.25 685.98L387.13 688.86L384.25 691.74L381.38 688.86Z" fill="#31578a"/>
<path d="M400.67 679.66V685.11M398.37 679.66H402.97M398.37 685.11H402.97" stroke="#2b4a78" stroke-width="1.7" fill="none"/>
<path d="M400.67 679.50L403.55 682.38L400.67 685.26L397.79 682.38Z" fill="#31578a"/>
<path d="M417.07 671.80V677.85M414.77 671.80H419.38M414.77 677.85H419.38" stroke="#2b4a78" stroke-width="1.7" fill="none"/>
<path d="M417.07 671.94L419.95 674.82L417.07 677.70L414.19 674.82Z" fill="#31578a"/>
<path d="M441.69 649.11V662.42M439.39 649.11H443.99M439.39 662.42H443.99" stroke="#2b4a78" stroke-width="1.7" fill="none"/>
<path d="M441.69 652.88L444.57 655.76L441.69 658.64L438.81 655.76Z" fill="#31578a"/>
<path d="M466.31 615.84V637.62M464.00 615.84H468.61M464.00 637.62H468.61" stroke="#2b4a78" stroke-width="1.7" fill="none"/>
<path d="M466.31 623.85L469.19 626.73L466.31 629.61L463.43 626.73Z" fill="#31578a"/>
<path d="M294.00 708.40L335.02 701.62L359.64 696.00L384.25 693.70L400.67 695.39L417.07 696.00L441.69 695.03L466.31 689.52" fill="none" stroke="#5c9040" stroke-width="1.9" stroke-linejoin="round"/>
<rect x="332.75" y="699.34" width="4.56" height="4.56" fill="#6cae3e"/>
<rect x="357.36" y="693.72" width="4.56" height="4.56" fill="#6cae3e"/>
<rect x="381.98" y="691.42" width="4.56" height="4.56" fill="#6cae3e"/>
<rect x="398.39" y="693.11" width="4.56" height="4.56" fill="#6cae3e"/>
<rect x="414.80" y="693.72" width="4.56" height="4.56" fill="#6cae3e"/>
<path d="M441.69 693.52V696.54M439.39 693.52H443.99M439.39 696.54H443.99" stroke="#5e9a38" stroke-width="1.7" fill="none"/>
<rect x="439.41" y="692.75" width="4.56" height="4.56" fill="#6cae3e"/>
<path d="M466.31 682.57V696.48M464.00 682.57H468.61M464.00 696.48H468.61" stroke="#5e9a38" stroke-width="1.7" fill="none"/>
<rect x="464.03" y="687.24" width="4.56" height="4.56" fill="#6cae3e"/>
<path d="M289 708.40H294" stroke="#111" stroke-width="1.6" fill="none"/>
<path d="M289 678.15H294" stroke="#111" stroke-width="1.6" fill="none"/>
<path d="M289 647.90H294" stroke="#111" stroke-width="1.6" fill="none"/>
<path d="M289 617.65H294" stroke="#111" stroke-width="1.6" fill="none"/>
<path d="M289 587.40H294" stroke="#111" stroke-width="1.6" fill="none"/>
<text x="294.30" y="728.60" text-anchor="middle" font-size="12.5" letter-spacing="0.6" fill="#303030">0</text>
<path d="M335.02 708.4V712.6" stroke="#111" stroke-width="1.6" fill="none"/>
<text x="335.32" y="728.60" text-anchor="middle" font-size="12.5" letter-spacing="0.6" fill="#303030">5</text>
<path d="M376.05 708.4V712.6" stroke="#111" stroke-width="1.6" fill="none"/>
<text x="376.35" y="728.60" text-anchor="middle" font-size="12.5" letter-spacing="0.6" fill="#303030">10</text>
<path d="M417.07 708.4V712.6" stroke="#111" stroke-width="1.6" fill="none"/>
<text x="417.38" y="728.60" text-anchor="middle" font-size="12.5" letter-spacing="0.6" fill="#303030">15</text>
<path d="M458.10 708.4V712.6" stroke="#111" stroke-width="1.6" fill="none"/>
<text x="458.40" y="728.60" text-anchor="middle" font-size="12.5" letter-spacing="0.6" fill="#303030">20</text>
<path d="M473.7 648.4V689.7" stroke="#111" stroke-width="1.8" fill="none"/>
<circle cx="477.40" cy="664.70" r="1.3" fill="#111"/>
<circle cx="477.40" cy="669.05" r="1.3" fill="#111"/>
<circle cx="477.40" cy="673.40" r="1.3" fill="#111"/>
<path d="M484.8 628V689.7" stroke="#111" stroke-width="1.8" fill="none"/>
<circle cx="488.50" cy="654.80" r="1.3" fill="#111"/>
<circle cx="488.50" cy="659.15" r="1.3" fill="#111"/>
<circle cx="488.50" cy="663.50" r="1.3" fill="#111"/>
<path d="M494.3 595.5V690.2" stroke="#111" stroke-width="1.8" fill="none"/>
<circle cx="498.10" cy="638.50" r="1.3" fill="#111"/>
<circle cx="498.10" cy="642.85" r="1.3" fill="#111"/>
<circle cx="498.10" cy="647.20" r="1.3" fill="#111"/>
<path d="M76 781.2V910.2" stroke="#111" stroke-width="2" fill="none"/>
<path d="M75 906H261.3" stroke="#111" stroke-width="2" fill="none"/>
<path d="M76.00 906.00L121.10 898.00L148.16 893.20L175.22 890.32L193.26 886.16L211.30 877.60L238.36 841.20" fill="none" stroke="#7c0f30" stroke-width="1.9" stroke-linejoin="round"/>
<circle cx="121.10" cy="898.00" r="2.4" fill="#a3113b"/>
<circle cx="148.16" cy="893.20" r="2.4" fill="#a3113b"/>
<circle cx="175.22" cy="890.32" r="2.4" fill="#a3113b"/>
<circle cx="193.26" cy="886.16" r="2.4" fill="#a3113b"/>
<path d="M211.30 876.00V879.20M209.00 876.00H213.60M209.00 879.20H213.60" stroke="#8e1135" stroke-width="1.7" fill="none"/>
<circle cx="211.30" cy="877.60" r="2.4" fill="#a3113b"/>
<path d="M238.36 833.76V848.64M236.06 833.76H240.66M236.06 848.64H240.66" stroke="#8e1135" stroke-width="1.7" fill="none"/>
<circle cx="238.36" cy="841.20" r="2.4" fill="#a3113b"/>
<path d="M76.00 906.00L121.10 898.00L148.16 895.92L175.22 903.20L193.26 904.56L211.30 905.20L238.36 902.72" fill="none" stroke="#263f66" stroke-width="1.9" stroke-linejoin="round"/>
<path d="M121.10 895.12L123.98 898.00L121.10 900.88L118.22 898.00Z" fill="#31578a"/>
<path d="M148.16 893.04L151.04 895.92L148.16 898.80L145.28 895.92Z" fill="#31578a"/>
<path d="M175.22 900.32L178.10 903.20L175.22 906.08L172.34 903.20Z" fill="#31578a"/>
<path d="M193.26 901.68L196.14 904.56L193.26 907.44L190.38 904.56Z" fill="#31578a"/>
<path d="M211.30 902.32L214.18 905.20L211.30 908.08L208.42 905.20Z" fill="#31578a"/>
<path d="M238.36 899.84L241.24 902.72L238.36 905.60L235.48 902.72Z" fill="#31578a"/>
<path d="M76.00 906.00L121.10 897.84L148.16 888.40L175.22 876.32L193.26 868.24L211.30 852.00L238.36 815.60" fill="none" stroke="#30163f" stroke-width="1.9" stroke-linejoin="round"/>
<circle cx="121.10" cy="897.84" r="2.4" fill="#4a2468"/>
<circle cx="148.16" cy="888.40" r="2.4" fill="#4a2468"/>
<path d="M175.22 874.72V877.92M172.92 874.72H177.52M172.92 877.92H177.52" stroke="#3d2552" stroke-width="1.7" fill="none"/>
<circle cx="175.22" cy="876.32" r="2.4" fill="#4a2468"/>
<path d="M193.26 865.04V871.44M190.96 865.04H195.56M190.96 871.44H195.56" stroke="#3d2552" stroke-width="1.7" fill="none"/>
<circle cx="193.26" cy="868.24" r="2.4" fill="#4a2468"/>
<path d="M211.30 846.00V858.00M209.00 846.00H213.60M209.00 858.00H213.60" stroke="#3d2552" stroke-width="1.7" fill="none"/>
<circle cx="211.30" cy="852.00" r="2.4" fill="#4a2468"/>
<path d="M238.36 804.16V827.04M236.06 804.16H240.66M236.06 827.04H240.66" stroke="#3d2552" stroke-width="1.7" fill="none"/>
<circle cx="238.36" cy="815.60" r="2.4" fill="#4a2468"/>
<path d="M76.00 906.00L121.10 898.64L148.16 899.68L175.22 905.84L193.26 905.60L211.30 905.60L238.36 905.36" fill="none" stroke="#5c9040" stroke-width="1.9" stroke-linejoin="round"/>
<rect x="118.82" y="896.36" width="4.56" height="4.56" fill="#6cae3e"/>
<rect x="145.88" y="897.40" width="4.56" height="4.56" fill="#6cae3e"/>
<rect x="172.94" y="903.56" width="4.56" height="4.56" fill="#6cae3e"/>
<rect x="190.98" y="903.32" width="4.56" height="4.56" fill="#6cae3e"/>
<rect x="209.02" y="903.32" width="4.56" height="4.56" fill="#6cae3e"/>
<rect x="236.08" y="903.08" width="4.56" height="4.56" fill="#6cae3e"/>
<path d="M71 906.00H76" stroke="#111" stroke-width="1.6" fill="none"/>
<text x="68" y="910.30" text-anchor="end" font-size="12.5" letter-spacing="0.75" fill="#303030">0</text>
<path d="M71 866.00H76" stroke="#111" stroke-width="1.6" fill="none"/>
<text x="68" y="870.30" text-anchor="end" font-size="12.5" letter-spacing="0.75" fill="#303030">500</text>
<path d="M71 826.00H76" stroke="#111" stroke-width="1.6" fill="none"/>
<text x="68" y="830.30" text-anchor="end" font-size="12.5" letter-spacing="0.75" fill="#303030">1000</text>
<path d="M71 786.00H76" stroke="#111" stroke-width="1.6" fill="none"/>
<text x="68" y="790.30" text-anchor="end" font-size="12.5" letter-spacing="0.75" fill="#303030">1500</text>
<text x="76.30" y="926.20" text-anchor="middle" font-size="12.5" letter-spacing="0.6" fill="#303030">0</text>
<path d="M121.10 906V910.2" stroke="#111" stroke-width="1.6" fill="none"/>
<text x="121.40" y="926.20" text-anchor="middle" font-size="12.5" letter-spacing="0.6" fill="#303030">5</text>
<path d="M166.20 906V910.2" stroke="#111" stroke-width="1.6" fill="none"/>
<text x="166.50" y="926.20" text-anchor="middle" font-size="12.5" letter-spacing="0.6" fill="#303030">10</text>
<path d="M211.30 906V910.2" stroke="#111" stroke-width="1.6" fill="none"/>
<text x="211.60" y="926.20" text-anchor="middle" font-size="12.5" letter-spacing="0.6" fill="#303030">15</text>
<path d="M256.40 906V910.2" stroke="#111" stroke-width="1.6" fill="none"/>
<text x="256.70" y="926.20" text-anchor="middle" font-size="12.5" letter-spacing="0.6" fill="#303030">20</text>
<path d="M294 781.2V910.2" stroke="#111" stroke-width="2" fill="none"/>
<path d="M293 906H479" stroke="#111" stroke-width="2" fill="none"/>
<path d="M294.00 906.00L339.00 898.00L366.00 890.80L393.00 884.40L411.00 879.84L429.00 873.12L456.00 828.40" fill="none" stroke="#7c0f30" stroke-width="1.9" stroke-linejoin="round"/>
<circle cx="339.00" cy="898.00" r="2.4" fill="#a3113b"/>
<circle cx="366.00" cy="890.80" r="2.4" fill="#a3113b"/>
<circle cx="393.00" cy="884.40" r="2.4" fill="#a3113b"/>
<circle cx="411.00" cy="879.84" r="2.4" fill="#a3113b"/>
<circle cx="429.00" cy="873.12" r="2.4" fill="#a3113b"/>
<circle cx="456.00" cy="828.40" r="2.4" fill="#a3113b"/>
<path d="M294.00 906.00L339.00 898.00L366.00 891.28L393.00 882.64L411.00 873.12L429.00 870.48L456.00 834.48" fill="none" stroke="#263f66" stroke-width="1.9" stroke-linejoin="round"/>
<path d="M339.00 895.12L341.88 898.00L339.00 900.88L336.12 898.00Z" fill="#31578a"/>
<path d="M366.00 888.40L368.88 891.28L366.00 894.16L363.12 891.28Z" fill="#31578a"/>
<path d="M393.00 879.76L395.88 882.64L393.00 885.52L390.12 882.64Z" fill="#31578a"/>
<path d="M411.00 870.24L413.88 873.12L411.00 876.00L408.12 873.12Z" fill="#31578a"/>
<path d="M429.00 867.28V873.68M426.70 867.28H431.30M426.70 873.68H431.30" stroke="#2b4a78" stroke-width="1.7" fill="none"/>
<path d="M429.00 867.60L431.88 870.48L429.00 873.36L426.12 870.48Z" fill="#31578a"/>
<path d="M456.00 827.76V841.20M453.70 827.76H458.30M453.70 841.20H458.30" stroke="#2b4a78" stroke-width="1.7" fill="none"/>
<path d="M456.00 831.60L458.88 834.48L456.00 837.36L453.12 834.48Z" fill="#31578a"/>
<path d="M294.00 906.00L339.00 897.92L366.00 888.40L393.00 877.68L411.00 872.48L429.00 861.60L456.00 822.96" fill="none" stroke="#30163f" stroke-width="1.9" stroke-linejoin="round"/>
<circle cx="339.00" cy="897.92" r="2.4" fill="#4a2468"/>
<circle cx="366.00" cy="888.40" r="2.4" fill="#4a2468"/>
<circle cx="393.00" cy="877.68" r="2.4" fill="#4a2468"/>
<circle cx="411.00" cy="872.48" r="2.4" fill="#4a2468"/>
<path d="M429.00 858.40V864.80M426.70 858.40H431.30M426.70 864.80H431.30" stroke="#3d2552" stroke-width="1.7" fill="none"/>
<circle cx="429.00" cy="861.60" r="2.4" fill="#4a2468"/>
<path d="M456.00 813.84V832.08M453.70 813.84H458.30M453.70 832.08H458.30" stroke="#3d2552" stroke-width="1.7" fill="none"/>
<circle cx="456.00" cy="822.96" r="2.4" fill="#4a2468"/>
<path d="M294.00 906.00L339.00 897.92L366.00 894.24L393.00 887.04L411.00 885.52L429.00 884.08L456.00 865.28" fill="none" stroke="#5c9040" stroke-width="1.9" stroke-linejoin="round"/>
<rect x="336.72" y="895.64" width="4.56" height="4.56" fill="#6cae3e"/>
<rect x="363.72" y="891.96" width="4.56" height="4.56" fill="#6cae3e"/>
<rect x="390.72" y="884.76" width="4.56" height="4.56" fill="#6cae3e"/>
<path d="M411.00 882.32V888.72M408.70 882.32H413.30M408.70 888.72H413.30" stroke="#5e9a38" stroke-width="1.7" fill="none"/>
<rect x="408.72" y="883.24" width="4.56" height="4.56" fill="#6cae3e"/>
<path d="M429.00 880.08V888.08M426.70 880.08H431.30M426.70 888.08H431.30" stroke="#5e9a38" stroke-width="1.7" fill="none"/>
<rect x="426.72" y="881.80" width="4.56" height="4.56" fill="#6cae3e"/>
<path d="M456.00 854.96V875.60M453.70 854.96H458.30M453.70 875.60H458.30" stroke="#5e9a38" stroke-width="1.7" fill="none"/>
<rect x="453.72" y="863.00" width="4.56" height="4.56" fill="#6cae3e"/>
<path d="M289 906.00H294" stroke="#111" stroke-width="1.6" fill="none"/>
<path d="M289 866.00H294" stroke="#111" stroke-width="1.6" fill="none"/>
<path d="M289 826.00H294" stroke="#111" stroke-width="1.6" fill="none"/>
<path d="M289 786.00H294" stroke="#111" stroke-width="1.6" fill="none"/>
<text x="294.30" y="926.20" text-anchor="middle" font-size="12.5" letter-spacing="0.6" fill="#303030">0</text>
<path d="M339.00 906V910.2" stroke="#111" stroke-width="1.6" fill="none"/>
<text x="339.30" y="926.20" text-anchor="middle" font-size="12.5" letter-spacing="0.6" fill="#303030">5</text>
<path d="M384.00 906V910.2" stroke="#111" stroke-width="1.6" fill="none"/>
<text x="384.30" y="926.20" text-anchor="middle" font-size="12.5" letter-spacing="0.6" fill="#303030">10</text>
<path d="M429.00 906V910.2" stroke="#111" stroke-width="1.6" fill="none"/>
<text x="429.30" y="926.20" text-anchor="middle" font-size="12.5" letter-spacing="0.6" fill="#303030">15</text>
<path d="M474.00 906V910.2" stroke="#111" stroke-width="1.6" fill="none"/>
<text x="474.30" y="926.20" text-anchor="middle" font-size="12.5" letter-spacing="0.6" fill="#303030">20</text>
<path d="M464.8 825.2V865.6" stroke="#111" stroke-width="1.8" fill="none"/>
<circle cx="468.70" cy="841.30" r="1.3" fill="#111"/>
<circle cx="468.70" cy="845.65" r="1.3" fill="#111"/>
<circle cx="468.70" cy="850.00" r="1.3" fill="#111"/>
<g transform="translate(28.8 249.8) rotate(-90) scale(0.675 1)"><text x="0" y="0" text-anchor="middle" font-size="14.8" font-weight="bold" fill="#222">Tumor size (mm<tspan dy="-5.8" font-size="11.5">3</tspan><tspan dy="5.8">)</tspan></text></g>
<g transform="translate(28.8 448) rotate(-90) scale(0.675 1)"><text x="0" y="0" text-anchor="middle" font-size="14.8" font-weight="bold" fill="#222">Tumor size (mm<tspan dy="-5.8" font-size="11.5">3</tspan><tspan dy="5.8">)</tspan></text></g>
<g transform="translate(28.8 646.3) rotate(-90) scale(0.675 1)"><text x="0" y="0" text-anchor="middle" font-size="14.8" font-weight="bold" fill="#222">Tumor size (mm<tspan dy="-5.8" font-size="11.5">3</tspan><tspan dy="5.8">)</tspan></text></g>
<g transform="translate(28.8 843.6) rotate(-90) scale(0.675 1)"><text x="0" y="0" text-anchor="middle" font-size="14.8" font-weight="bold" fill="#222">Tumor size (mm<tspan dy="-5.8" font-size="11.5">3</tspan><tspan dy="5.8">)</tspan></text></g>
<path d="M116.8 346.7H136.2" stroke="#30163f" stroke-width="1.4"/>
<circle cx="126.50" cy="346.70" r="2.3" fill="#4a2468"/>
<text x="141.6" y="350.4" font-size="11.7" fill="#2a2a2a">Saline</text>
<path d="M186.8 346.7H206.2" stroke="#263f66" stroke-width="1.4"/>
<path d="M196.50 343.94L199.26 346.70L196.50 349.46L193.74 346.70Z" fill="#31578a"/>
<text x="211.6" y="350.4" font-size="11.7" fill="#2a2a2a">STING</text>
<path d="M261 346.7H280.2" stroke="#7c0f30" stroke-width="1.4"/>
<circle cx="270.60" cy="346.70" r="2.3" fill="#a3113b"/>
<text x="285.8" y="350.4" font-size="11.7" fill="#2a2a2a">CpG</text>
<path d="M324.2 346.7H344.2" stroke="#5c9040" stroke-width="1.4"/>
<rect x="332.01" y="344.51" width="4.37" height="4.37" fill="#6cae3e"/>
<text x="349.6" y="350.4" font-size="11.7" fill="#2a2a2a">STING + CpG</text>
<path d="M116.8 545.2H136.2" stroke="#30163f" stroke-width="1.4"/>
<circle cx="126.50" cy="545.20" r="2.3" fill="#4a2468"/>
<text x="141.6" y="548.9000000000001" font-size="11.7" fill="#2a2a2a">Saline</text>
<path d="M186.8 545.2H206.2" stroke="#263f66" stroke-width="1.4"/>
<path d="M196.50 542.44L199.26 545.20L196.50 547.96L193.74 545.20Z" fill="#31578a"/>
<text x="211.6" y="548.9000000000001" font-size="11.7" fill="#2a2a2a">STING</text>
<path d="M251.1 545.2H270" stroke="#7c0f30" stroke-width="1.4"/>
<circle cx="260.55" cy="545.20" r="2.3" fill="#a3113b"/>
<text x="275.8" y="548.9000000000001" font-size="11.7" fill="#2a2a2a">aOX40</text>
<path d="M316.2 545.2H334.7" stroke="#5c9040" stroke-width="1.4"/>
<rect x="323.26" y="543.02" width="4.37" height="4.37" fill="#6cae3e"/>
<text x="340" y="548.9000000000001" font-size="11.7" fill="#2a2a2a">STING + aOX40</text>
<path d="M116.8 743.5H136.2" stroke="#30163f" stroke-width="1.4"/>
<circle cx="126.50" cy="743.50" r="2.3" fill="#4a2468"/>
<text x="141.6" y="747.2" font-size="11.7" fill="#2a2a2a">Saline</text>
<path d="M186.8 743.5H206.2" stroke="#263f66" stroke-width="1.4"/>
<path d="M196.50 740.74L199.26 743.50L196.50 746.26L193.74 743.50Z" fill="#31578a"/>
<text x="211.6" y="747.2" font-size="11.7" fill="#2a2a2a">STING</text>
<path d="M260.8 743.5H279.7" stroke="#7c0f30" stroke-width="1.4"/>
<circle cx="270.25" cy="743.50" r="2.3" fill="#a3113b"/>
<text x="285" y="747.2" font-size="11.7" fill="#2a2a2a">aGITR</text>
<path d="M332.4 743.5H351.5" stroke="#5c9040" stroke-width="1.4"/>
<rect x="339.76" y="741.32" width="4.37" height="4.37" fill="#6cae3e"/>
<text x="357.3" y="747.2" font-size="11.7" fill="#2a2a2a">STING + aGITR</text>
<path d="M116.8 972.4H136.2" stroke="#30163f" stroke-width="1.4"/>
<circle cx="126.50" cy="972.40" r="2.3" fill="#4a2468"/>
<text x="141.6" y="976.1" font-size="11.7" fill="#2a2a2a">Saline</text>
<path d="M186.8 972.4H206.2" stroke="#263f66" stroke-width="1.4"/>
<path d="M196.50 969.64L199.26 972.40L196.50 975.16L193.74 972.40Z" fill="#31578a"/>
<text x="211.6" y="976.1" font-size="11.7" fill="#2a2a2a">STING</text>
<path d="M260.8 972.4H280.4" stroke="#7c0f30" stroke-width="1.4"/>
<circle cx="270.60" cy="972.40" r="2.3" fill="#a3113b"/>
<text x="285.7" y="976.1" font-size="11.7" fill="#2a2a2a">Resiq.</text>
<path d="M331.2 972.4H350.4" stroke="#5c9040" stroke-width="1.4"/>
<rect x="338.61" y="970.22" width="4.37" height="4.37" fill="#6cae3e"/>
<text x="356.2" y="976.1" font-size="11.7" fill="#2a2a2a">STING + Resiq.</text>
<text x="11.3" y="156.2" font-size="19" font-weight="bold" fill="#111">B</text>
<text x="10.8" y="373.6" font-size="19" font-weight="bold" fill="#111">C</text>
<text x="11.3" y="571.4" font-size="19" font-weight="bold" fill="#111">D</text>
<text x="11.3" y="769.8" font-size="19" font-weight="bold" fill="#111">E</text>
<text x="168.6" y="178.4" font-size="14.5" font-weight="bold" text-anchor="middle" fill="#111">Treated Tumor</text>
<text x="387" y="178.4" font-size="14.7" font-weight="bold" text-anchor="middle" fill="#111">Non-Treated Tumor</text>
<g transform="translate(168.5 946.7) scale(0.643 1)"><text x="0" y="0" font-size="15" font-weight="bold" text-anchor="middle" fill="#222">Days after tumor injection</text></g>
<g transform="translate(386.7 946.7) scale(0.643 1)"><text x="0" y="0" font-size="15" font-weight="bold" text-anchor="middle" fill="#222">Days after tumor injection</text></g>
<rect x="1" y="1" width="518" height="988" fill="none" stroke="#000" stroke-width="2"/>
</svg></body></html>
